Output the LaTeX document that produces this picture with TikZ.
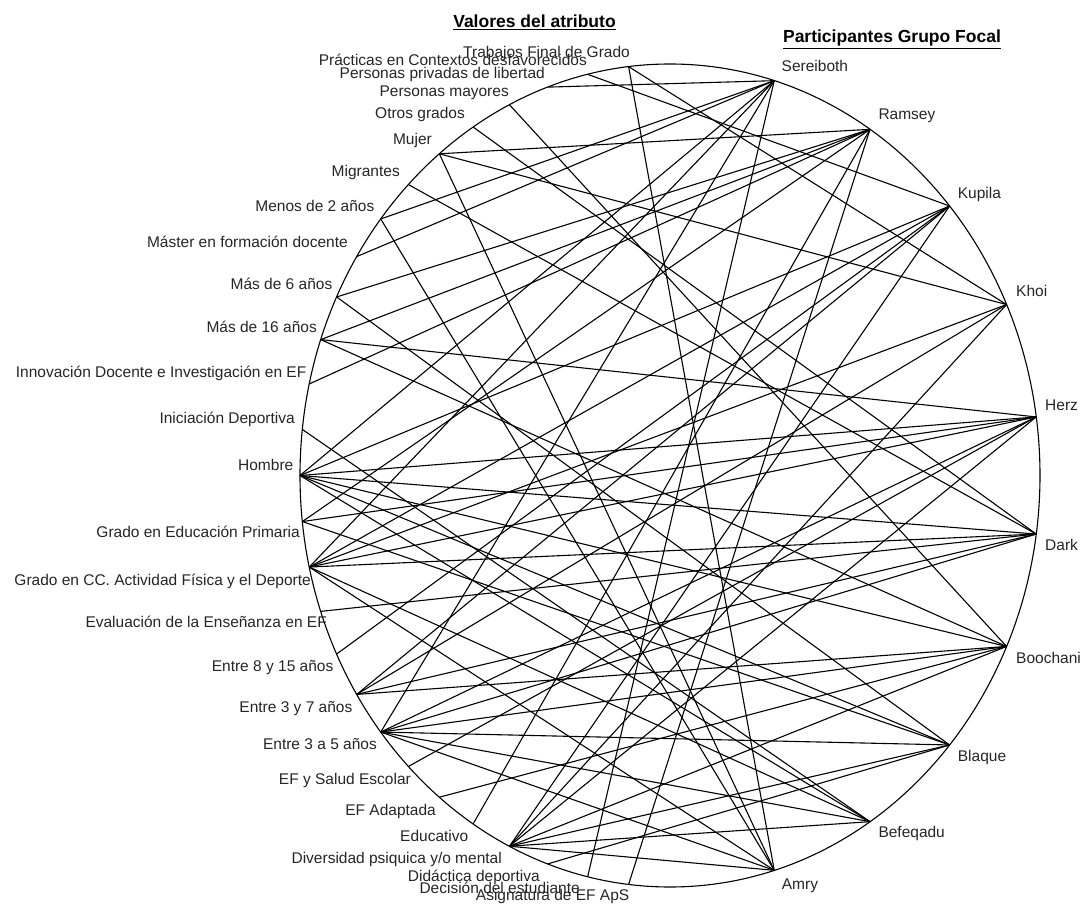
\documentclass[tikz,border=0pt]{standalone}
\usepackage{fontspec}
\setmainfont{Liberation Sans}
\begin{document}
\begin{tikzpicture}[x=1pt,y=-1pt,
  link/.style={line width=1.1pt, black},
  rim/.style={line width=1.1pt, black},
  vlabel/.style={anchor=base east, inner sep=0pt, text=black!85, font=\fontsize{15.5}{18}\selectfont},
  plabel/.style={anchor=base west, inner sep=0pt, text=black!85, font=\fontsize{15.5}{18}\selectfont},
  heading/.style={anchor=base, inner sep=0pt, font=\fontsize{17.5}{20}\selectfont\bfseries}]
\useasboundingbox (0,0) rectangle (1082,904);
\fill[white] (0,0) rectangle (1082,904);

% outer ring
\draw[rim] (670,475.5) ellipse [x radius=370pt, y radius=411.5pt];

% attribute values on the left half, participants on the right half
\foreach \n [count=\k] in {tfg,pcd,ppl,pmay,otros,mujer,migr,men2,master,mas6,mas16,innov,inic,hombre,gep,gcc,eval,e815,e37,e35,efsalud,efadapt,educ,divers,didac,decis,asig}
  \coordinate (\n) at ({670+370*cos(90+180*\k/28)},{475.5-411.5*sin(90+180*\k/28)});
\foreach \n [count=\k] in {sere,rams,kupi,khoi,herz,dark,booc,blaq,befe,amry}
  \coordinate (\n) at ({670+370*cos(90-180*\k/11)},{475.5-411.5*sin(90-180*\k/11)});

% headings
\node[heading] (h1) at (534.5,28) {\underline{Valores del atributo}};
\node[heading] (h2) at (892,43) {\underline{Participantes Grupo Focal}};

% attribute value labels
\node[vlabel] (tfg-t) at (630,58) {Trabajos Final de Grado};
\node[vlabel] (pcd-t) at (587,66) {Prácticas en Contextos desfavorecidos};
\node[vlabel] (ppl-t) at (545,78.5) {Personas privadas de libertad};
\node[vlabel] (pmay-t) at (509,97) {Personas mayores};
\node[vlabel] (otros-t) at (465,118.5) {Otros grados};
\node[vlabel] (mujer-t) at (432,145) {Mujer};
\node[vlabel] (migr-t) at (400,177) {Migrantes};
\node[vlabel] (men2-t) at (374.5,212) {Menos de 2 años};
\node[vlabel] (master-t) at (348,248) {Máster en formación docente};
\node[vlabel] (mas6-t) at (332.5,290) {Más de 6 años};
\node[vlabel] (mas16-t) at (317,332) {Más de 16 años};
\node[vlabel] (innov-t) at (306.5,377) {Innovación Docente e Investigación en EF};
\node[vlabel] (inic-t) at (295,423) {Iniciación Deportiva};
\node[vlabel] (hombre-t) at (293.5,470) {Hombre};
\node[vlabel] (gep-t) at (300,537) {Grado en Educación Primaria};
\node[vlabel] (gcc-t) at (311,585) {Grado en CC. Actividad Física y el Deporte};
\node[vlabel] (eval-t) at (327,627.5) {Evaluación de la Enseñanza en EF};
\node[vlabel] (e815-t) at (333.5,671) {Entre 8 y 15 años};
\node[vlabel] (e37-t) at (352.5,712) {Entre 3 y 7 años};
\node[vlabel] (e35-t) at (377,749) {Entre 3 a 5 años};
\node[vlabel] (efsalud-t) at (411,784) {EF y Salud Escolar};
\node[vlabel] (efadapt-t) at (436,815) {EF Adaptada};
\node[vlabel] (educ-t) at (468.5,841) {Educativo};
\node[vlabel] (divers-t) at (502,863) {Diversidad psiquica y/o mental};
\node[vlabel] (didac-t) at (540,881.5) {Didáctica deportiva};
\node[vlabel] (decis-t) at (580,893) {Decisión del estudiante};
\node[vlabel] (asig-t) at (629.5,900) {Asignatura de EF ApS};

% participant labels
\node[plabel] (sere-t) at (781.5,71.5) {Sereiboth};
\node[plabel] (rams-t) at (878.3,120) {Ramsey};
\node[plabel] (kupi-t) at (957.7,198.5) {Kupila};
\node[plabel] (khoi-t) at (1016,297) {Khoi};
\node[plabel] (herz-t) at (1045,410) {Herz};
\node[plabel] (dark-t) at (1045,550.5) {Dark};
\node[plabel] (booc-t) at (1016,663.3) {Boochani};
\node[plabel] (blaq-t) at (957.7,761.7) {Blaque};
\node[plabel] (befe-t) at (878.3,837.7) {Befeqadu};
\node[plabel] (amry-t) at (781.7,889) {Amry};

% links between participants and attribute values
\foreach \p/\v in {
  sere/hombre, sere/ppl, sere/men2, sere/master, sere/e35, sere/decis, sere/gcc,
  rams/mujer, rams/mas6, rams/mas16, rams/innov, rams/educ, rams/asig, rams/gep,
  kupi/hombre, kupi/pcd, kupi/e815, kupi/e37, kupi/divers, kupi/gcc,
  khoi/mujer, khoi/tfg, khoi/e37, khoi/gcc, khoi/divers,
  herz/hombre, herz/mas16, herz/gep, herz/gcc, herz/e35, herz/efsalud, herz/divers,
  dark/hombre, dark/migr, dark/otros, dark/eval, dark/e37, dark/e35, dark/gcc,
  booc/hombre, booc/pmay, booc/efadapt, booc/mas16, booc/e35, booc/divers, booc/e37,
  blaq/hombre, blaq/mas6, blaq/gep, blaq/e35, blaq/divers, blaq/didac,
  befe/hombre, befe/inic, befe/e35, befe/divers, befe/gcc,
  amry/mujer, amry/tfg, amry/e35, amry/divers, amry/gcc, amry/men2}
  \draw[link] (\p) -- (\v);
\end{tikzpicture}
\end{document}
